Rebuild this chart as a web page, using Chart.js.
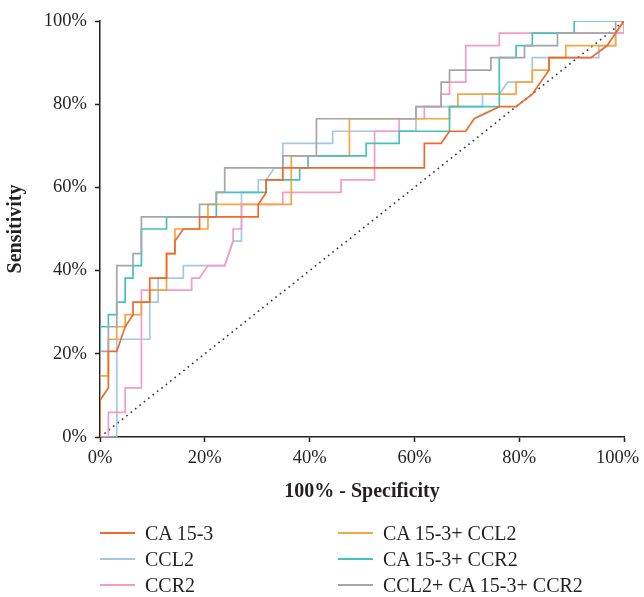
<!DOCTYPE html>
<html>
<head>
<meta charset="utf-8">
<script src="https://cdn.jsdelivr.net/npm/chart.js@4.4.1/dist/chart.umd.min.js"></script>
<style>
  body { margin: 0; background: #fff; }
  #wrap { position: relative; width: 644px; height: 597px; }
  #legend { position: absolute; left: 0; top: 0; width: 644px; height: 597px; pointer-events: none;
            font-family: "Liberation Serif", "DejaVu Serif", serif; font-size: 20px; color: #231f20; }
  .item { position: absolute; height: 24px; line-height: 24px; white-space: nowrap; }
  .item span.swatch { position: absolute; left: 0; top: 11px; width: 35px; height: 2px; }
  .item span.txt { position: absolute; left: 45px; top: 0; }
</style>
</head>
<body>
<div id="wrap">
  <canvas id="roc" width="644" height="597"></canvas>
  <div id="legend"></div>
</div>
<script>
// ROC points: [100% - specificity, sensitivity] in percent
const ca153 = [[0,0],[0,8.8],[1.6,11.8],[1.6,20.6],[3.2,20.6],[4.8,26.5],[6.3,29.4],[6.3,32.4],[9.5,32.4],[9.5,38.2],[12.7,38.2],[12.7,44.1],[14.3,44.1],[14.3,47.1],[15.9,50],[19.0,50],[19.0,52.9],[30.2,52.9],[30.2,55.9],[31.7,58.8],[31.7,61.8],[34.9,61.8],[34.9,64.7],[61.9,64.7],[61.9,70.6],[65.1,70.6],[66.7,73.5],[69.8,73.5],[71.4,76.5],[76.2,79.4],[79.4,79.4],[82.5,82.4],[85.7,88.2],[85.7,91.2],[93.7,91.2],[96.8,94.1],[98.4,97.1],[100,100]];
const ccl2 = [[0,0],[3.2,0],[3.2,23.5],[9.5,23.5],[9.5,32.4],[11.1,32.4],[11.1,38.2],[15.9,38.2],[15.9,41.2],[23.8,41.2],[25.4,47.1],[27.0,47.1],[27.0,58.8],[30.2,58.8],[30.2,61.8],[31.7,61.8],[33.3,64.7],[34.9,64.7],[34.9,70.6],[44.4,70.6],[44.4,73.5],[60.3,73.5],[60.3,79.4],[73.0,79.4],[73.0,82.4],[76.2,82.4],[77.8,85.3],[82.5,85.3],[82.5,91.2],[95.2,91.2],[95.2,94.1],[98.4,94.1],[98.4,97.1],[100,97.1],[100,100]];
const ccr2 = [[0,0],[1.6,0],[1.6,5.9],[4.8,5.9],[4.8,11.8],[7.9,11.8],[7.9,35.3],[17.5,35.3],[17.5,38.2],[19.0,38.2],[20.6,41.2],[23.8,41.2],[25.4,47.1],[25.4,50],[27.0,50],[27.0,55.9],[34.9,55.9],[34.9,58.8],[46.0,58.8],[46.0,61.8],[52.4,61.8],[52.4,73.5],[57.1,73.5],[57.1,76.5],[61.9,76.5],[61.9,79.4],[65.1,79.4],[65.1,82.4],[66.7,82.4],[66.7,85.3],[69.8,85.3],[69.8,94.1],[76.2,94.1],[76.2,97.1],[100,97.1],[100,100]];
const ca153Ccl2 = [[0,0],[0,14.7],[1.6,14.7],[1.6,23.5],[3.2,23.5],[3.2,26.5],[4.8,26.5],[4.8,29.4],[7.9,29.4],[7.9,32.4],[9.5,32.4],[9.5,35.3],[12.7,35.3],[12.7,44.1],[14.3,44.1],[14.3,50],[20.6,50],[20.6,55.9],[36.5,55.9],[36.5,67.6],[47.6,67.6],[47.6,76.5],[66.7,76.5],[66.7,79.4],[68.3,79.4],[68.3,82.4],[79.4,82.4],[79.4,85.3],[82.5,85.3],[82.5,88.2],[85.7,88.2],[85.7,91.2],[88.9,91.2],[88.9,94.1],[98.4,94.1],[98.4,97.1],[100,100]];
const ca153Ccr2 = [[0,0],[0,26.5],[1.6,26.5],[1.6,29.4],[3.2,29.4],[3.2,32.4],[4.8,32.4],[4.8,38.2],[6.3,38.2],[6.3,41.2],[7.9,41.2],[7.9,50],[12.7,50],[12.7,52.9],[22.2,52.9],[22.2,58.8],[31.7,58.8],[31.7,61.8],[38.1,61.8],[38.1,64.7],[39.7,64.7],[39.7,67.6],[50.8,67.6],[50.8,70.6],[57.1,70.6],[57.1,73.5],[66.7,73.5],[66.7,79.4],[76.2,79.4],[76.2,91.2],[79.4,91.2],[79.4,94.1],[82.5,94.1],[82.5,97.1],[90.5,97.1],[90.5,100],[100,100]];
const allThree = [[0,0],[0,20.6],[1.6,20.6],[1.6,26.5],[3.2,26.5],[3.2,41.2],[6.3,41.2],[6.3,44.1],[7.9,44.1],[7.9,52.9],[19.0,52.9],[19.0,55.9],[22.2,55.9],[22.2,58.8],[23.8,58.8],[23.8,64.7],[34.9,64.7],[34.9,67.6],[41.3,67.6],[41.3,76.5],[60.3,76.5],[60.3,79.4],[65.1,79.4],[65.1,85.3],[66.7,85.3],[66.7,88.2],[74.6,88.2],[74.6,91.2],[81.0,91.2],[81.0,94.1],[87.3,94.1],[87.3,97.1],[98.4,97.1],[98.4,100],[100,100]];
const chanceLine = [[0,0],[100,100]];

const seriesLabels = ['CA 15-3', 'CCL2', 'CCR2', 'CA 15-3+ CCL2', 'CA 15-3+ CCR2', 'CCL2+ CA 15-3+ CCR2'];
const seriesData = [ca153, ccl2, ccr2, ca153Ccl2, ca153Ccr2, allThree];
const seriesColors = ['#ee6a2c', '#a4c8e8', '#f49cc6', '#f7a541', '#46c1bd', '#a6a6a6'];
const drawOrder = [0, 5, 4, 3, 2, 1];   // lower = drawn on top
const tickValues = [0, 20, 40, 60, 80, 100];

const ink = '#231f20';
const serif = '"Liberation Serif", "DejaVu Serif", serif';

const toXY = pts => pts.map(p => ({ x: p[0], y: p[1] }));

const datasets = seriesData.map((pts, i) => ({
    label: seriesLabels[i],
    data: toXY(pts),
    borderColor: seriesColors[i],
    borderWidth: 1.7,
    showLine: true,
    pointRadius: 0,
    tension: 0,
    order: drawOrder[i]
}));
datasets.push({
    label: 'reference',
    data: toXY(chanceLine),
    borderColor: '#333',
    borderWidth: 1.6,
    borderDash: [1.6, 4],
    showLine: true,
    pointRadius: 0,
    order: 9
});

const axisCommon = {
    type: 'linear',
    min: 0,
    max: 100,
    border: { display: true, color: ink, width: 1.5 },
    grid: { drawOnChartArea: false, drawTicks: true, tickLength: 5, tickColor: ink, tickWidth: 1.5 },
    afterBuildTicks: s => { s.ticks = tickValues.map(v => ({ value: v })); }
};
const tickFont = { family: serif, size: 18.5 };
const titleFont = { family: serif, size: 20, weight: 'bold' };

new Chart(document.getElementById('roc'), {
    type: 'scatter',
    data: { datasets: datasets },
    options: {
        responsive: false,
        animation: false,
        layout: { padding: { left: 0, right: 20, top: 21, bottom: 93 } },
        plugins: { legend: { display: false }, tooltip: { enabled: false } },
        scales: {
            x: Object.assign({}, axisCommon, {
                position: 'bottom',
                // last label sits a little left of its tick so it stays inside the picture
                ticks: { color: ink, font: tickFont, padding: 5, maxRotation: 0,
                         callback: v => v === 100 ? '100%\u2002\u2009' : v + '%' },
                title: { display: true, text: '100% - Specificity', color: ink, font: titleFont,
                         padding: { top: 0, bottom: 0 } },
                afterFit: s => { s.height = 67; s.paddingLeft = 0; s.paddingRight = 0; }
            }),
            y: Object.assign({}, axisCommon, {
                position: 'left',
                ticks: { color: ink, font: tickFont, padding: 8, callback: v => v + '%' },
                title: { display: true, text: 'Sensitivity', color: ink, font: titleFont,
                         padding: { top: 4, bottom: 0 } },
                afterFit: s => { s.width = 100; s.paddingTop = 0; s.paddingBottom = 0; }
            })
        }
    }
});

// legend: two columns, filled top to bottom
const legend = document.getElementById('legend');
const colX = [100, 338];
const rowY = [521, 547, 573];
seriesLabels.forEach((lab, i) => {
    const col = Math.floor(i / 3), row = i % 3;
    const item = document.createElement('div');
    item.className = 'item';
    item.style.left = colX[col] + 'px';
    item.style.top = rowY[row] + 'px';
    const sw = document.createElement('span');
    sw.className = 'swatch';
    sw.style.background = seriesColors[i];
    const tx = document.createElement('span');
    tx.className = 'txt';
    tx.textContent = lab;
    item.appendChild(sw);
    item.appendChild(tx);
    legend.appendChild(item);
});
</script>
</body>
</html>
